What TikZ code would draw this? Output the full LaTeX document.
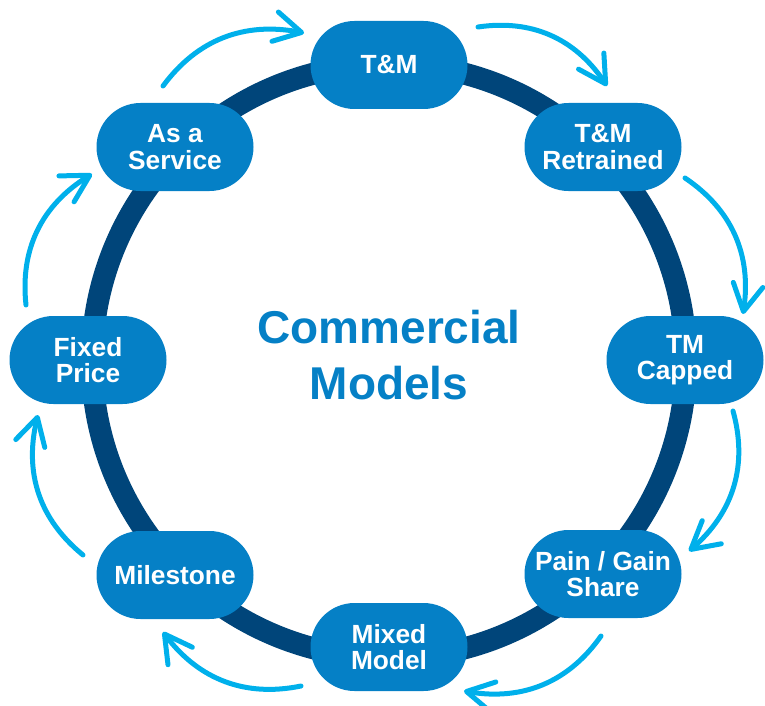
\documentclass[tikz,border=0pt]{standalone}
\usepackage{fontspec}
\setmainfont{Liberation Sans}
\usetikzlibrary{shapes.misc,arrows.meta,bending}
\definecolor{modelblue}{HTML}{0580C6}
\definecolor{ringnavy}{HTML}{00457A}
\definecolor{arrowcyan}{HTML}{00B0EB}
\begin{document}
\begin{tikzpicture}[x=1pt,y=-1pt,
  model/.style={rounded rectangle, fill=modelblue, text=white,
    font=\fontsize{26.3}{26.5}\selectfont\bfseries,
    minimum width=157pt, minimum height=88pt, align=center, inner sep=0pt},
  cyclearrow/.style={draw=arrowcyan, line width=5pt, line cap=round, line join=round,
    -{Straight Barb[length=27pt,width=30pt,line cap=round,line join=round]},
    bend left=33}
]
\useasboundingbox (0,0) rectangle (765,706);

% the dark ring behind the eight models
\coordinate (hub) at (389,361);
\draw[ringnavy, line width=22pt] (hub) circle[radius=297pt];

% centre title
\node[font=\fontsize{46}{56}\selectfont\bfseries, text=modelblue, align=center]
  (title) at (389,355) {Commercial\\Models};

% the eight commercial models
\node[model] (tm)        at (389,65)  {T\&M};
\node[model] (retrained) at (603,147) {T\&M\\Retrained};
\node[model] (capped)    at (685,360) {TM\\Capped};
\node[model] (paingain)  at (603,574) {Pain / Gain\\Share};
\node[model] (mixed)     at (389,647) {Mixed\\Model};
\node[model] (milestone) at (175,575) {Milestone};
\node[model] (fixed)     at (88,360)  {Fixed\\Price};
\node[model] (service)   at (175,147) {As a\\Service};

% end points of the clockwise arrows
\coordinate (a1s) at (163,86);  \coordinate (a1e) at (304,33);
\coordinate (a2s) at (478,27);  \coordinate (a2e) at (607,86);
\coordinate (a3s) at (685,178); \coordinate (a3e) at (743,314);
\coordinate (a4s) at (733,411); \coordinate (a4e) at (689,551);
\coordinate (a5s) at (601,636); \coordinate (a5e) at (464,691);
\coordinate (a6s) at (301,686); \coordinate (a6e) at (163,632);
\coordinate (a7s) at (83,555);  \coordinate (a7e) at (38,415);
\coordinate (a8s) at (26,305);  \coordinate (a8e) at (92,174);

\draw[cyclearrow] (a1s) to (a1e);
\draw[cyclearrow] (a2s) to (a2e);
\draw[cyclearrow] (a3s) to (a3e);
\draw[cyclearrow] (a4s) to (a4e);
\draw[cyclearrow] (a5s) to (a5e);
\draw[cyclearrow] (a6s) to (a6e);
\draw[cyclearrow] (a7s) to (a7e);
\draw[cyclearrow] (a8s) to (a8e);
\end{tikzpicture}
\end{document}
